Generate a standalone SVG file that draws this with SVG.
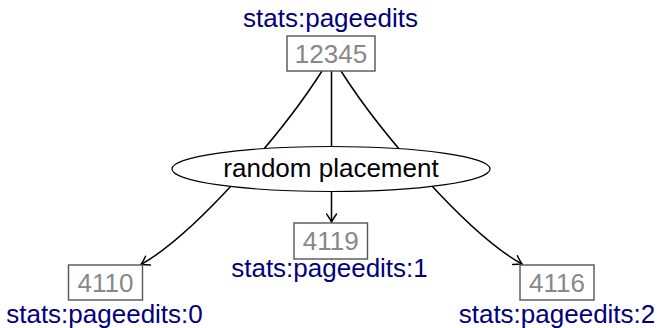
<svg xmlns="http://www.w3.org/2000/svg" width="657" height="328" viewBox="0 0 657 328">
<style>
.box{fill:#fff;stroke:#555;stroke-width:1.4}
.num{font-family:"Liberation Sans",Arial,sans-serif;font-size:26px;fill:#888;text-anchor:middle}
.lbl{font-family:"Liberation Sans",Arial,sans-serif;font-size:26px;fill:#000080;text-anchor:middle}
.txt{font-family:"Liberation Sans",Arial,sans-serif;font-size:26px;fill:#000;text-anchor:middle}
.edge{fill:none;stroke:#000;stroke-width:1.5}
</style>
<defs>
<marker id="arr" viewBox="-10 -6 12 12" refX="0" refY="0" markerWidth="12" markerHeight="12" markerUnits="userSpaceOnUse" orient="auto">
<path d="M-8,-5 Q-2.5,-1.2 0,0 Q-2.5,1.2 -8,5" fill="none" stroke="#000" stroke-width="1.5" stroke-linecap="round"/>
</marker>
</defs>
<g id="connectors">
<path class="edge" d="M322,71 C282,134 194,235 141,264.5" marker-end="url(#arr)"/>
<path class="edge" d="M331.5,71 L331.5,222" marker-end="url(#arr)"/>
<path class="edge" d="M341,71 C381,134 469,235 522,264" marker-end="url(#arr)"/>
</g>
<g id="n12345">
<text class="lbl" x="330.5" y="26.5">stats:pageedits</text>
<rect class="box" x="287" y="36" width="88" height="35"/>
<text class="num" x="331" y="63">12345</text>
</g>
<g id="placement">
<ellipse cx="331" cy="169" rx="159" ry="22.5" fill="#fff" stroke="#000" stroke-width="1.2"/>
<text class="txt" x="331" y="177">random placement</text>
</g>
<g id="n4110">
<rect class="box" x="68.5" y="265" width="74" height="35"/>
<text class="num" x="105.5" y="292">4110</text>
<text class="lbl" x="104.5" y="323">stats:pageedits:0</text>
</g>
<g id="n4119">
<rect class="box" x="294" y="223" width="73.5" height="36"/>
<text class="num" x="330.7" y="249.5">4119</text>
<text class="lbl" x="329.5" y="277">stats:pageedits:1</text>
</g>
<g id="n4116">
<rect class="box" x="520" y="265" width="74" height="35"/>
<text class="num" x="557" y="292">4116</text>
<text class="lbl" x="557" y="323">stats:pageedits:2</text>
</g>
</svg>
